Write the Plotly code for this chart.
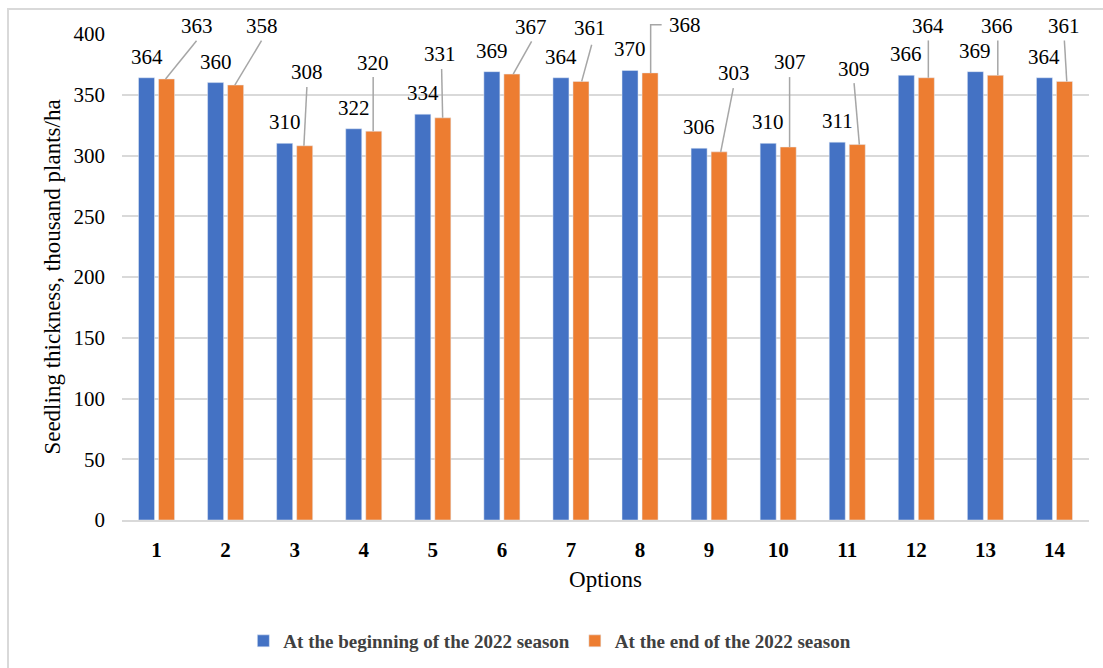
import plotly.graph_objects as go

# Seedling density per option, thousand plants/ha
options = list(range(1, 15))
season_start = [364, 360, 310, 322, 334, 369, 364, 370, 306, 310, 311, 366, 369, 364]
season_end = [363, 358, 308, 320, 331, 367, 361, 368, 303, 307, 309, 364, 366, 361]
series_names = ["At the beginning of the 2022 season", "At the end of the 2022 season"]
y_ticks = [0, 50, 100, 150, 200, 250, 300, 350, 400]

# Placement of the end-of-season labels (pixels from the top centre of each bar)
end_lbl_dx = [30.0, 25.9, 2.4, -0.6, -2.4, 19.3, 9.5, 35.2, 15.2, 1.8, -2.9, 2.0, 2.0, -0.6]
end_lbl_dy = [53.2, 59.3, 74.0, 67.7, 63.4, 47.4, 52.9, 48.1, 79.1, 84.7, 76.0, 51.7, 49.3, 55.6]
# Leader lines: start x offset, end x offset, end height (pixels)
lead_x0 = [-1.0, -0.8, -0.8, -0.6, -0.2, 1.3, 0.7, 0.6, 1.6, 1.4, 2.1, 2.0, 2.4, 2.3]
lead_x1 = [30.0, 25.9, 2.2, -0.6, -1.2, 19.7, 10.7, 0.6, 14.2, 1.4, -3.2, 2.0, 2.4, -0.1]
lead_y1 = [38.2, 44.3, 58.7, 54.1, 48.8, 32.7, 36.6, 48.1, 63.8, 69.9, 61.5, 37.3, 34.9, 40.9]
elbow_tail = {8: 11.0}  # leader lines that turn horizontally towards their label

BLUE = "#4472C4"
ORANGE = "#ED7D31"
GRID = "#d9d9d9"
FONT = "Liberation Serif, Times New Roman, DejaVu Serif, serif"

bargap = 0.42
bargroupgap = 0.2
half_offset = (1 - bargap) / 4  # centre of each bar relative to its category
x_range = [0.5, 14.5]
y_range = [0, 400]


def to_paper_x(v):
    return (v - x_range[0]) / (x_range[1] - x_range[0])


def to_paper_y(v):
    return (v - y_range[0]) / (y_range[1] - y_range[0])


fig = go.Figure()
fig.add_bar(x=options, y=season_start, name=series_names[0], marker_color=BLUE)
fig.add_bar(x=options, y=season_end, name=series_names[1], marker_color=ORANGE)

annotations = []
shapes = []
for i, k in enumerate(options):
    # value above the beginning-of-season bar
    annotations.append(dict(
        x=k - half_offset, y=season_start[i], xref="x", yref="y",
        text=str(season_start[i]), showarrow=False,
        yanchor="middle", xanchor="center", yshift=21,
        font=dict(family=FONT, size=21, color="#000000"),
    ))
    # value of the end-of-season bar, moved aside with a leader line
    xo = k + half_offset
    annotations.append(dict(
        x=to_paper_x(xo), y=to_paper_y(season_end[i]), xref="paper", yref="paper",
        text=str(season_end[i]), showarrow=False,
        yanchor="middle", xanchor="center",
        xshift=end_lbl_dx[i], yshift=end_lbl_dy[i],
        font=dict(family=FONT, size=21, color="#000000"),
    ))
    path = f"M{lead_x0[i]},0 L{lead_x1[i]},{lead_y1[i]}"
    if k in elbow_tail:
        path += f" L{lead_x1[i] + elbow_tail[k]},{lead_y1[i]}"
    # paper-referenced so the line may run above the plotting area
    shapes.append(dict(
        type="path", xref="paper", yref="paper",
        xsizemode="pixel", ysizemode="pixel",
        xanchor=to_paper_x(xo), yanchor=to_paper_y(season_end[i]),
        path=path, line=dict(color="#a6a6a6", width=1.5),
        layer="above",
    ))

# chart frame
shapes.append(dict(
    type="rect", xref="paper", yref="paper",
    x0=-0.1179, y0=-0.35, x1=1.03, y1=1.0514,
    line=dict(color=GRID, width=2), fillcolor="rgba(0,0,0,0)", layer="below",
))

fig.update_layout(
    width=1103, height=668,
    margin=dict(l=122, r=14, t=34, b=148, autoexpand=False),
    paper_bgcolor="white", plot_bgcolor="white",
    barmode="group", bargap=bargap, bargroupgap=bargroupgap,
    font=dict(family=FONT, color="#000000"),
    annotations=annotations, shapes=shapes,
    showlegend=True,
    legend=dict(
        orientation="h", xref="container", yref="container",
        x=0.4985, xanchor="center", y=0.0404, yanchor="middle",
        font=dict(family=FONT, size=19, color="#404040", weight="bold"),
        itemwidth=30, traceorder="normal",
    ),
    xaxis=dict(
        range=x_range, tickvals=options, ticktext=[str(o) for o in options],
        tickfont=dict(family=FONT, size=21, color="#000000", weight="bold"),
        showgrid=False, zeroline=False,
        showline=True, linecolor=GRID, linewidth=2,
        ticks="", ticklabelstandoff=10,
        title=dict(text="Options", font=dict(family=FONT, size=23, color="#000000"), standoff=10),
    ),
    yaxis=dict(
        range=y_range, tickvals=y_ticks,
        tickfont=dict(family=FONT, size=21, color="#000000"),
        showgrid=True, gridcolor=GRID, gridwidth=2, zeroline=False,
        showline=False, ticks="", ticklabelstandoff=16,
        title=dict(text="Seedling thickness, thousand plants/ha",
                   font=dict(family=FONT, size=23, color="#000000"), standoff=6),
    ),
)

fig.write_html("out.html")
